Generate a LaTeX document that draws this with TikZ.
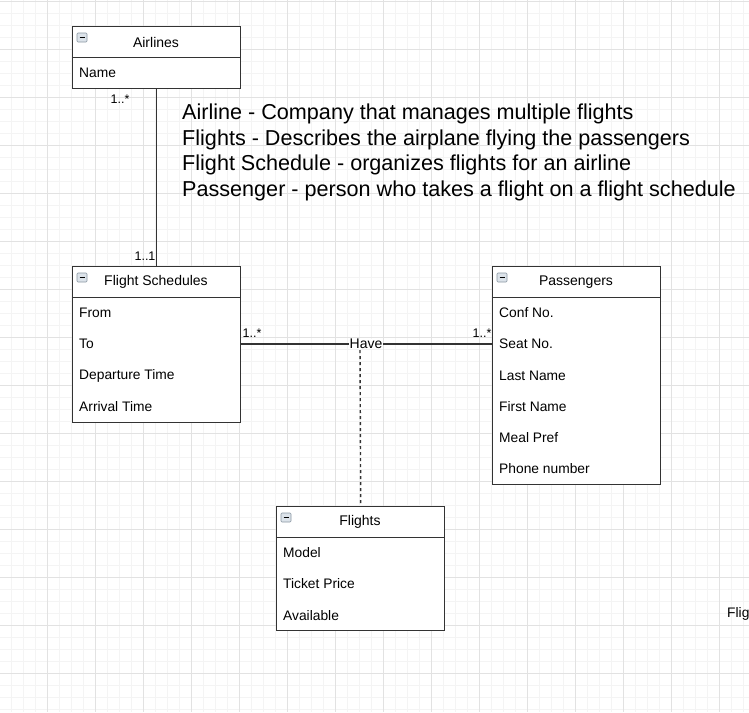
\documentclass[tikz,border=0pt]{standalone}
\usepackage{fontspec}
\setmainfont{Liberation Sans}
\definecolor{lineC}{HTML}{333333}
\definecolor{gridMinor}{HTML}{F4F4F4}
\definecolor{gridMajor}{HTML}{E2E2E2}
\definecolor{iconB}{HTML}{8A97A3}
\definecolor{iconF}{HTML}{DCE3EA}
\begin{document}
\begin{tikzpicture}[x=1pt,y=-1pt,
  hdr/.style={draw=lineC, line width=1.4pt, fill=white, anchor=north west, inner sep=0pt, minimum width=168pt, minimum height=31pt},
  body/.style={draw=lineC, line width=1.4pt, fill=white, anchor=north west, inner sep=0pt, minimum width=168pt},
  ttl/.style={font=\fontsize{14}{16}\selectfont, inner sep=0pt},
  attr/.style={anchor=west, font=\fontsize{13.8}{16}\selectfont, inner sep=0pt},
  mult/.style={font=\fontsize{12.5}{14}\selectfont, inner sep=0pt},
  conn/.style={draw=lineC, line width=1.4pt},
  icon/.style={draw=iconB, line width=0.6pt, fill=iconF, rounded corners=1pt},
]
\useasboundingbox (0,0) rectangle (749,712);
\fill[white] (0,0) rectangle (749,712);
% grid
\foreach \x in {11,23,...,743} \draw[gridMinor, line width=0.8pt] (\x,0) -- (\x,712);
\foreach \y in {1,13,...,709} \draw[gridMinor, line width=0.8pt] (0,\y) -- (749,\y);
\foreach \x in {47,95,...,719} \draw[gridMajor, line width=0.8pt] (\x,0) -- (\x,712);
\foreach \y in {1,49,...,697} \draw[gridMajor, line width=0.8pt] (0,\y) -- (749,\y);

% Airlines
\node[hdr] (airH) at (72,26) {};
\node[body, minimum height=31pt] (airB) at (72,57) {};
\node[ttl] (airT) at (156,42) {Airlines};
\node[attr] (airA1) at (79,73) {Name};
\draw[icon] (77,33) rectangle (87,42);
\draw[black, line width=1pt] (79.5,37.5) -- (84.5,37.5);

% Flight Schedules
\node[hdr] (fsH) at (72,266) {};
\node[body, minimum height=125pt] (fsB) at (72,297) {};
\node[ttl] (fsT) at (156,282) {Flight Schedules};
\node[attr] (fsA1) at (79,313) {From};
\node[attr] (fsA2) at (79,344) {To};
\node[attr] (fsA3) at (79,376) {Departure Time};
\node[attr] (fsA4) at (79,407) {Arrival Time};
\draw[icon] (77,273) rectangle (87,282);
\draw[black, line width=1pt] (79.5,277.5) -- (84.5,277.5);

% Passengers
\node[hdr] (paH) at (492,266) {};
\node[body, minimum height=187pt] (paB) at (492,297) {};
\node[ttl] (paT) at (576,282) {Passengers};
\node[attr] (paA1) at (499,313) {Conf No.};
\node[attr] (paA2) at (499,344) {Seat No.};
\node[attr] (paA3) at (499,376) {Last Name};
\node[attr] (paA4) at (499,407) {First Name};
\node[attr] (paA5) at (499,438) {Meal Pref};
\node[attr] (paA6) at (499,469) {Phone number};
\draw[icon] (497,273) rectangle (507,282);
\draw[black, line width=1pt] (499.5,277.5) -- (504.5,277.5);

% Flights
\node[hdr] (flH) at (276,506) {};
\node[body, minimum height=93pt] (flB) at (276,537) {};
\node[ttl] (flT) at (360,522) {Flights};
\node[attr] (flA1) at (283,553) {Model};
\node[attr] (flA2) at (283,584) {Ticket Price};
\node[attr] (flA3) at (283,616) {Available};
\draw[icon] (281,513) rectangle (291,522);
\draw[black, line width=1pt] (283.5,517.5) -- (288.5,517.5);

% connectors
\draw[conn] (airB.south) -- (fsH.north);
\node[mult] (m1) at (120,99) {1..*};
\node[mult] (m2) at (145,256) {1..1};

\coordinate (haveC) at (360,344);
\draw[conn] (fsB.east |- haveC) -- (paB.west |- haveC);
\draw[conn, dash pattern=on 3pt off 3pt] (haveC) -- (flH.north);
\node[ttl, fill=white, inner xsep=1pt, inner ysep=0.5pt] (have) at (366,344) {Have};
\node[mult] (m3) at (252,333) {1..*};
\node[mult] (m4) at (482,333) {1..*};

% description
\node[anchor=west, align=left, inner sep=0pt, font=\fontsize{21.6}{25.5}\selectfont] (desc) at (182,152.5)
 {Airline - Company that manages multiple flights\\
  Flights - Describes the airplane flying the passengers\\
  Flight Schedule - organizes flights for an airline\\
  Passenger - person who takes a flight on a flight schedule};

\node[anchor=west, inner sep=0pt, font=\fontsize{13.8}{16}\selectfont] (flig) at (727,614) {Flights};
\end{tikzpicture}
\end{document}
